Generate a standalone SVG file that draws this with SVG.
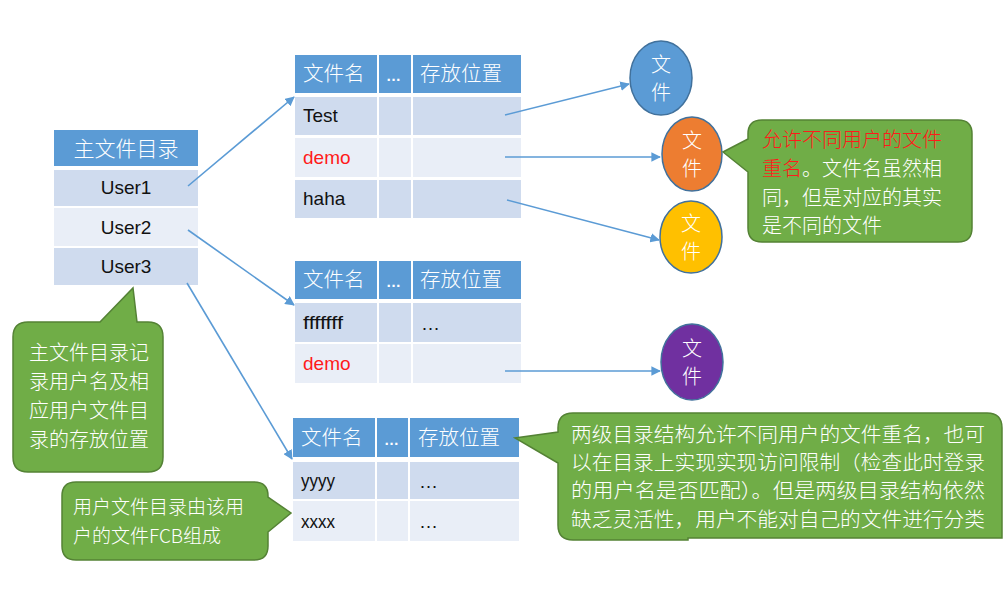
<svg xmlns="http://www.w3.org/2000/svg" width="1007" height="592" viewBox="0 0 1007 592">
<defs>
<marker id="ah" viewBox="0 0 10 10" refX="9" refY="5" markerWidth="6" markerHeight="6" orient="auto" markerUnits="strokeWidth">
<path d="M0,0 L10,5 L0,10 z" fill="#5b9bd5"/>
</marker>
<style>
.hd{fill:#5b9bd5}
.r1{fill:#cfdbee}
.r2{fill:#e9eef7}
.ht{font-family:"Noto Sans CJK SC",sans-serif;font-size:20.5px;font-weight:300;fill:#fff}
.he{font-family:"Liberation Sans",sans-serif;font-size:15px;font-weight:bold;fill:#fff}
.lt{font-family:"Liberation Sans","Noto Sans CJK SC",sans-serif;font-size:19px;fill:#111}
.red{fill:#ff1a1a}
.ct{font-family:"Noto Sans CJK SC",sans-serif;font-size:20px;font-weight:300;fill:#fff;text-anchor:middle}
.cl{fill:#70ad47;stroke:#548235;stroke-width:1.5}
.cb{font-family:"Noto Sans CJK SC",sans-serif;font-size:20px;font-weight:300;fill:#fff}
.conn{stroke:#5b9bd5;stroke-width:1.6;fill:none;marker-end:url(#ah)}
</style>
</defs>
<rect width="1007" height="592" fill="#fff"/>

<g id="master">
<rect class="hd" x="54" y="130" width="144" height="36"/>
<text class="ht" x="126" y="156" text-anchor="middle" style="font-size:21px">主文件目录</text>
<rect class="r1" x="54" y="170" width="144" height="36"/>
<rect class="r2" x="54" y="208" width="144" height="38"/>
<rect class="r1" x="54" y="248" width="144" height="37"/>
<text class="lt" x="126" y="194" text-anchor="middle">User1</text>
<text class="lt" x="126" y="234" text-anchor="middle">User2</text>
<text class="lt" x="126" y="273" text-anchor="middle">User3</text>
</g>

<g id="table1">
<rect class="hd" x="295" y="55" width="82" height="38"/>
<rect class="hd" x="379" y="55" width="32" height="38"/>
<rect class="hd" x="413" y="55" width="108" height="38"/>
<rect class="r1" x="295" y="97" width="82" height="38"/>
<rect class="r1" x="379" y="97" width="32" height="38"/>
<rect class="r1" x="413" y="97" width="108" height="38"/>
<rect class="r2" x="295" y="138" width="82" height="39"/>
<rect class="r2" x="379" y="138" width="32" height="39"/>
<rect class="r2" x="413" y="138" width="108" height="39"/>
<rect class="r1" x="295" y="180" width="82" height="38"/>
<rect class="r1" x="379" y="180" width="32" height="38"/>
<rect class="r1" x="413" y="180" width="108" height="38"/>
<text class="ht" x="303" y="81">文件名</text>
<text class="he" x="386" y="81">…</text>
<text class="ht" x="420" y="81">存放位置</text>
<text class="lt" x="303" y="122">Test</text>
<text class="lt red" x="303" y="164">demo</text>
<text class="lt" x="303" y="205">haha</text>
</g>

<g id="table2">
<rect class="hd" x="295" y="261" width="82" height="38"/>
<rect class="hd" x="379" y="261" width="32" height="38"/>
<rect class="hd" x="413" y="261" width="108" height="38"/>
<rect class="r1" x="295" y="303" width="82" height="39"/>
<rect class="r1" x="379" y="303" width="32" height="39"/>
<rect class="r1" x="413" y="303" width="108" height="39"/>
<rect class="r2" x="295" y="344" width="82" height="39"/>
<rect class="r2" x="379" y="344" width="32" height="39"/>
<rect class="r2" x="413" y="344" width="108" height="39"/>
<text class="ht" x="303" y="287">文件名</text>
<text class="he" x="386" y="287">…</text>
<text class="ht" x="420" y="287">存放位置</text>
<text class="lt" x="303" y="329" textLength="40" lengthAdjust="spacingAndGlyphs">fffffff</text>
<text class="lt" x="421" y="330">…</text>
<text class="lt red" x="303" y="370">demo</text>
</g>

<g id="table3">
<rect class="hd" x="293" y="418" width="82" height="39"/>
<rect class="hd" x="377" y="418" width="31" height="39"/>
<rect class="hd" x="410" y="418" width="109" height="39"/>
<rect class="r1" x="293" y="462" width="82" height="37"/>
<rect class="r1" x="377" y="462" width="31" height="37"/>
<rect class="r1" x="410" y="462" width="109" height="37"/>
<rect class="r2" x="293" y="501" width="82" height="40"/>
<rect class="r2" x="377" y="501" width="31" height="40"/>
<rect class="r2" x="410" y="501" width="109" height="40"/>
<text class="ht" x="301" y="445">文件名</text>
<text class="he" x="384" y="445">…</text>
<text class="ht" x="418" y="445">存放位置</text>
<text class="lt" x="301" y="487" textLength="34" lengthAdjust="spacingAndGlyphs">yyyy</text>
<text class="lt" x="419" y="488">…</text>
<text class="lt" x="301" y="528" textLength="34" lengthAdjust="spacingAndGlyphs">xxxx</text>
<text class="lt" x="419" y="528">…</text>
</g>

<g id="file-blue">
<ellipse cx="661" cy="78" rx="31" ry="37" fill="#5b9bd5" stroke="#41719c" stroke-width="1.5"/>
<text class="ct" x="661" y="72">文</text>
<text class="ct" x="661" y="100">件</text>
</g>
<g id="file-orange">
<ellipse cx="692" cy="154" rx="30" ry="37" fill="#ed7d31" stroke="#41719c" stroke-width="1.5"/>
<text class="ct" x="692" y="148">文</text>
<text class="ct" x="692" y="176">件</text>
</g>
<g id="file-yellow">
<ellipse cx="691" cy="237" rx="31" ry="36" fill="#ffc000" stroke="#41719c" stroke-width="1.5"/>
<text class="ct" x="691" y="231">文</text>
<text class="ct" x="691" y="259">件</text>
</g>
<g id="file-purple">
<ellipse cx="692" cy="362" rx="31" ry="38" fill="#7030a0" stroke="#41719c" stroke-width="1.5"/>
<text class="ct" x="692" y="356">文</text>
<text class="ct" x="692" y="384">件</text>
</g>

<g id="connectors">
<line class="conn" x1="188" y1="186" x2="294" y2="97"/>
<line class="conn" x1="188" y1="230" x2="294" y2="305"/>
<line class="conn" x1="187" y1="283" x2="292" y2="459"/>
<line class="conn" x1="505" y1="115" x2="629" y2="84"/>
<line class="conn" x1="505" y1="157" x2="660" y2="157"/>
<line class="conn" x1="507" y1="200" x2="659" y2="240"/>
<line class="conn" x1="505" y1="371" x2="660" y2="371"/>
</g>

<g id="note-master">
<path class="cl" d="M28,322 L100,322 L133,288 L137,322 L148,322 Q163,322 163,337 L163,457 Q163,472 148,472 L28,472 Q13,472 13,457 L13,337 Q13,322 28,322 Z"/>
<text class="cb" x="29" y="360">主文件目录记</text>
<text class="cb" x="29" y="389">录用户名及相</text>
<text class="cb" x="29" y="418">应用户文件目</text>
<text class="cb" x="29" y="447">录的存放位置</text>
</g>

<g id="note-fcb">
<path class="cl" d="M76,482 L254,482 Q268,482 268,496 L268,497 L291,513 L268,532 L268,546 Q268,560 254,560 L76,560 Q62,560 62,546 L62,496 Q62,482 76,482 Z"/>
<text class="cb" x="73" y="514" style="font-size:19px">用户文件目录由该用</text>
<text class="cb" x="73" y="543" style="font-size:19px">户的文件FCB组成</text>
</g>

<g id="note-rename">
<path class="cl" d="M762,120 L958,120 Q972,120 972,134 L972,228 Q972,242 958,242 L762,242 Q748,242 748,228 L748,172 L723,152 L748,139 L748,134 Q748,120 762,120 Z"/>
<text class="cb" x="762" y="147"><tspan class="red">允许不同用户的文件</tspan></text>
<text class="cb" x="762" y="176"><tspan class="red">重名</tspan>。文件名虽然相</text>
<text class="cb" x="762" y="205">同，但是对应的其实</text>
<text class="cb" x="762" y="233">是不同的文件</text>
</g>

<g id="note-twolevel">
<path class="cl" d="M573,413 L987,413 Q1002,413 1002,428 L1002,538 L688,538 L688,540 L573,540 Q558,540 558,525 L558,463 L515,438 L558,432 L558,428 Q558,413 573,413 Z"/>
<text class="cb" x="571" y="442" textLength="414" lengthAdjust="spacingAndGlyphs">两级目录结构允许不同用户的文件重名，也可</text>
<text class="cb" x="571" y="470" textLength="414" lengthAdjust="spacingAndGlyphs">以在目录上实现实现访问限制（检查此时登录</text>
<text class="cb" x="571" y="498" textLength="414" lengthAdjust="spacingAndGlyphs">的用户名是否匹配）。但是两级目录结构依然</text>
<text class="cb" x="571" y="527" textLength="414" lengthAdjust="spacingAndGlyphs">缺乏灵活性，用户不能对自己的文件进行分类</text>
</g>
</svg>
